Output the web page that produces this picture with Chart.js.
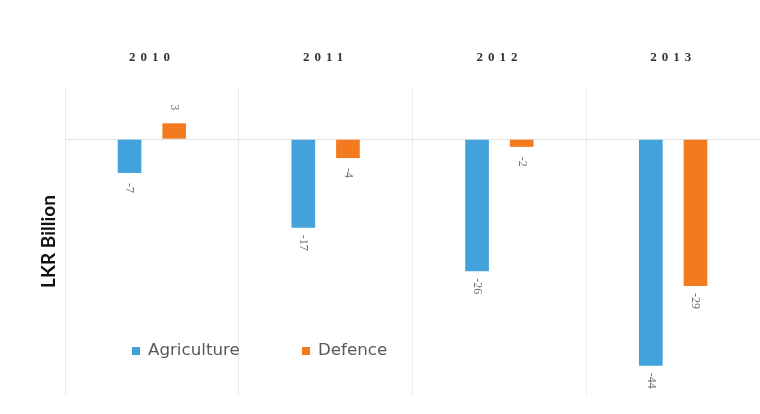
<!DOCTYPE html>
<html>
<head>
<meta charset="utf-8">
<script src="https://cdn.jsdelivr.net/npm/chart.js@4/dist/chart.umd.min.js"></script>
<style>
html,body{margin:0;padding:0;background:#fff;}
#wrap{width:760px;height:414px;position:relative;}
</style>
</head>
<body>
<div id="wrap"><canvas id="c" width="760" height="414"></canvas></div>
<script>
const categories = ['2010', '2011', '2012', '2013'];
const agriculture = [-6.6, -17.3, -25.8, -44.3];
const defence = [3.1, -3.7, -1.5, -28.7];
const seriesNames = ['Agriculture', 'Defence'];
const seriesColors = ['#41a2dc', '#f47a1f'];
const yAxisTitle = 'LKR Billion';

const labelPlugin = {
  id: 'barLabels',
  afterDatasetsDraw(chart) {
    const ctx = chart.ctx;
    ctx.save();
    ctx.font = '12px "Liberation Serif", serif';
    ctx.fillStyle = '#707070';
    ctx.textAlign = 'center';
    ctx.textBaseline = 'middle';
    chart.data.datasets.forEach((ds, di) => {
      const meta = chart.getDatasetMeta(di);
      meta.data.forEach((bar, i) => {
        const v = ds.data[i];
        const y = v < 0 ? bar.y + 15 : bar.y - 16;
        ctx.save();
        ctx.translate(bar.x, y);
        ctx.rotate(Math.PI / 2);
        ctx.fillText(Number(v).toFixed(0), 0, 0);
        ctx.restore();
      });
    });
    ctx.restore();
    // letter spacing for the category labels (x ticks drawn after datasets)
    ctx.letterSpacing = '5px';
  },
  afterDraw(chart) {
    const ctx = chart.ctx;
    ctx.letterSpacing = '0px';
    // legend inside plot
    ctx.save();
    ctx.font = '16.7px "DejaVu Sans", sans-serif';
    ctx.textBaseline = 'middle';
    ctx.textAlign = 'left';
    const pos = [132, 302];
    chart.data.datasets.forEach((ds, di) => {
      const x = pos[di], y = 351;
      ctx.fillStyle = ds.backgroundColor;
      ctx.fillRect(x, y - 4, 8, 8);
      ctx.fillStyle = '#595959';
      ctx.fillText(ds.label, x + 16, y);
    });
    ctx.restore();
  }
};

new Chart(document.getElementById('c'), {
  type: 'bar',
  data: {
    labels: categories,
    datasets: [
      { label: seriesNames[0], data: agriculture, backgroundColor: seriesColors[0] },
      { label: seriesNames[1], data: defence, backgroundColor: seriesColors[1] }
    ]
  },
  options: {
    responsive: false,
    animation: false,
    events: [],
    layout: { padding: { top: 0, left: 0, right: 0, bottom: 19 } },
    datasets: { bar: { categoryPercentage: 0.514, barPercentage: 0.53 } },
    plugins: { legend: { display: false }, tooltip: { enabled: false } },
    scales: {
      x: {
        position: 'top',
        afterFit(s) { s.height = 88; },
        border: { display: false },
        grid: { color: '#ececec', drawTicks: false, offset: true },
        ticks: {
          z: 1,
          padding: 23,
          color: '#333',
          font: { family: '"Liberation Serif", serif', size: 13, weight: 'bold' }
        }
      },
      y: {
        min: -50,
        max: 10,
        afterFit(s) { s.width = 65; },
        border: { display: false },
        grid: {
          drawTicks: false,
          color: (c) => (c.tick && c.tick.value === 0 ? '#e3e3e3' : 'rgba(0,0,0,0)')
        },
        ticks: { display: false, stepSize: 10 },
        title: {
          display: true,
          text: yAxisTitle,
          color: '#111',
          padding: { top: 37, bottom: 0 },
          font: { family: 'Lato, sans-serif', size: 19, weight: 'bold' }
        }
      }
    }
  },
  plugins: [labelPlugin]
});
</script>
</body>
</html>
